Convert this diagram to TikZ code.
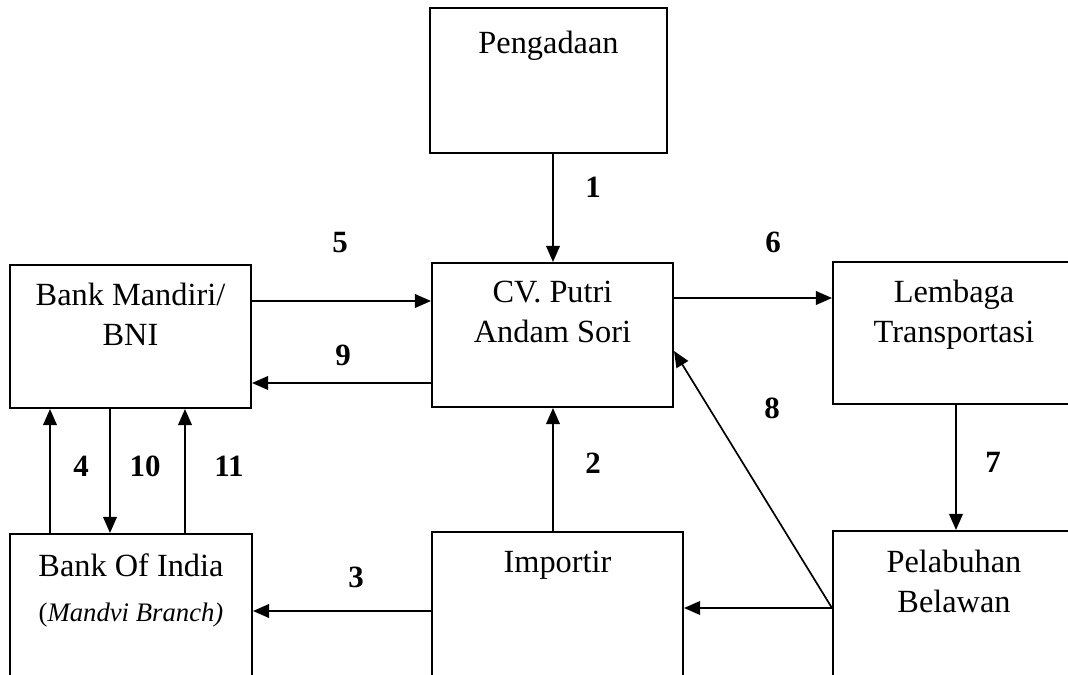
\documentclass[tikz,border=0pt]{standalone}
\usepackage{fontspec}
\setmainfont{Liberation Serif}
\usetikzlibrary{positioning, calc, arrows.meta}
\tikzstyle{box} = [rectangle, draw=black, line width=1.4pt, inner sep=0pt]
\tikzstyle{txt} = [align=center, inner sep=0pt, font=\fontsize{23}{28.5}\selectfont]
\tikzstyle{num} = [inner sep=0pt, font=\fontsize{22}{26}\selectfont\bfseries]
\tikzstyle{arrow} = [line width=1.2pt, -{Triangle[length=4mm, width=3.4mm]}]

\begin{document}
\begin{tikzpicture}[x=0.025cm, y=-0.025cm]
\clip (0,0) rectangle (1068,675);

%% NODES

\node (pengadaan) [box, minimum width=5.925cm, minimum height=3.625cm] at (548.5,80.5) {};
\node (cv) [box, minimum width=6.025cm, minimum height=3.6cm] at (552.5,335) {};
\node (mandiri) [box, minimum width=6.025cm, minimum height=3.575cm] at (130.5,336.5) {};
\node (india) [box, minimum width=6.05cm, minimum height=3.65cm] at (131,607) {};
\node (importir) [box, minimum width=6.275cm, minimum height=3.65cm] at (557.5,605) {};
\node (lembaga) [box, minimum width=6.05cm, minimum height=3.55cm] at (954,333) {};
\node (pelabuhan) [box, minimum width=6.05cm, minimum height=3.65cm] at (954,604) {};

\node (pengadaan_text) [txt, below=0.6cm of pengadaan.north] {Pengadaan};
\node (cv_text) [txt, below=0.48cm of cv.north] {CV. Putri\\Andam Sori};
\node (mandiri_text) [txt, below=0.48cm of mandiri.north] {Bank Mandiri/\\BNI};
\node (india_text) [txt, below=0.5cm of india.north] {Bank Of India\\[4pt]{\fontsize{19}{22}\selectfont(\textit{Mandvi Branch)}}};
\node (importir_text) [txt, below=0.5cm of importir.north] {Importir};
\node (lembaga_text) [txt, below=0.48cm of lembaga.north] {Lembaga\\Transportasi};
\node (pelabuhan_text) [txt, below=0.5cm of pelabuhan.north] {Pelabuhan\\Belawan};

%% LABELS

\node (n1) [num] at (593,187) {1};
\node (n2) [num] at (593,463) {2};
\node (n3) [num] at (356,577) {3};
\node (n4) [num] at (81,466) {4};
\node (n5) [num] at (340,243) {5};
\node (n6) [num] at (773,242) {6};
\node (n7) [num] at (993,462) {7};
\node (n8) [num] at (772,408) {8};
\node (n9) [num] at (343,355) {9};
\node (n10) [num] at (145,466) {10};
\node (n11) [num] at (229,466) {11};

%% ARROWS

\draw [arrow] ($(pengadaan.south)+(4.5,0)$) coordinate (a1) -- (a1 |- cv.north);
\draw [arrow] ($(importir.north)+(-4.5,0)$) coordinate (a2) -- (a2 |- cv.south);
\draw [arrow] ($(importir.west)+(0,6)$) coordinate (a3) -- (a3 -| india.east);
\draw [arrow] ($(india.north)+(-81,0)$) coordinate (a4) -- (a4 |- mandiri.south);
\draw [arrow] ($(mandiri.east)+(0,-35.5)$) coordinate (a5) -- (a5 -| cv.west);
\draw [arrow] ($(cv.east)+(0,-37)$) coordinate (a6) -- (a6 -| lembaga.west);
\draw [arrow] ($(lembaga.south)+(2,0)$) coordinate (a7) -- (a7 |- pelabuhan.north);
\draw [arrow] ($(pelabuhan.west)+(0,4)$) coordinate (a8) -- ($(cv.east)+(0,16)$);
\draw [arrow] (a8) -- (a8 -| importir.east);
\draw [arrow] ($(cv.west)+(0,48)$) coordinate (a9) -- (a9 -| mandiri.east);
\draw [arrow] ($(mandiri.south)+(-20.5,0)$) coordinate (a10) -- (a10 |- india.north);
\draw [arrow] ($(india.north)+(54,0)$) coordinate (a11) -- (a11 |- mandiri.south);

\end{tikzpicture}
\end{document}
